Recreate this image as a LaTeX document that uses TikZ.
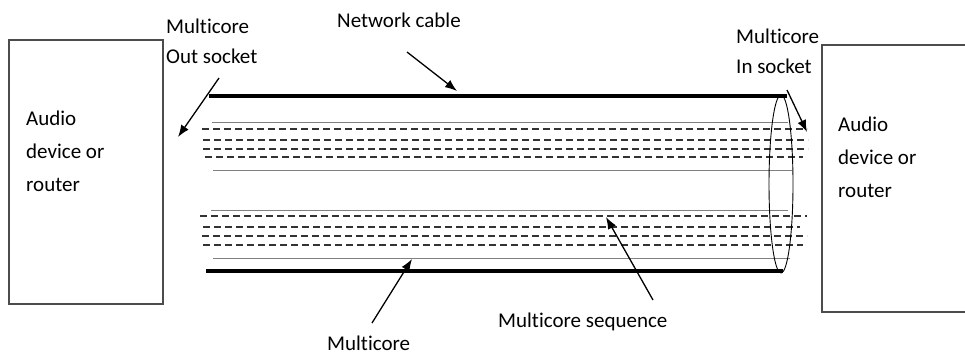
\documentclass[tikz,border=0pt]{standalone}
\usepackage{fontspec}
\setmainfont[Ligatures=NoCommon]{Carlito}
\usetikzlibrary{arrows.meta}

\tikzset{
  lbl/.style={anchor=base west, inner sep=0pt, font=\fontsize{21}{30}\selectfont},
  devbox/.style={draw=black!70, line width=1.3pt},
  sheath/.style={line width=4pt, black},
  core/.style={line width=1pt, black!50},
  pair/.style={line width=1.6pt, black!80, dash pattern=on 7pt off 4pt},
  pointer/.style={line width=1.3pt, -{Latex[length=12pt,width=9pt]}},
  rim/.style={line width=0.9pt, black}
}

\begin{document}
\begin{tikzpicture}[x=1pt,y=-1pt]
  \useasboundingbox (0,0) rectangle (965,354);

  % source device
  \node[devbox, minimum width=154pt, minimum height=264pt, inner sep=0pt] (srcdev) at (86,172) {};
  \node[lbl] (srcA) at (26,125) {Audio};
  \node[lbl] (srcB) at (26,158) {device or};
  \node[lbl] (srcC) at (26,191) {router};

  % destination device (runs off the right edge)
  \draw[devbox] (966,45) -- (822,45) -- (822,312) -- (966,312);
  \coordinate (dstdev) at (822,180);
  \node[lbl] (dstA) at (838,131) {Audio};
  \node[lbl] (dstB) at (838,164) {device or};
  \node[lbl] (dstC) at (838,197) {router};

  % upper bundle
  \draw[core] (212,122) -- (788,122);
  \draw[pair] (202,129) -- (807,129);
  \draw[pair] (203,140) -- (808,140);
  \draw[pair] (203,149) -- (808,149);
  \draw[pair] (205,157) -- (803,157);
  \draw[core] (213,170) -- (792,170);

  % lower bundle
  \draw[core] (211,210) -- (788,210);
  \draw[pair] (200,216) -- (807,216);
  \draw[pair] (203,227) -- (800,227);
  \draw[pair] (202,236) -- (807,236);
  \draw[pair] (203,245) -- (803,245);
  \draw[core] (213,258) -- (790,258);

  % outer sheath
  \draw[sheath] (209,96) coordinate (sheathTL) -- (787,96) coordinate (sheathTR);
  \draw[sheath] (206,271) coordinate (sheathBL) -- (783,271) coordinate (sheathBR);

  % cable end
  \draw[rim] (781,184) ellipse [x radius=12, y radius=89];

  % labels
  \node[lbl] (outA) at (166,33) {Multicore};
  \node[lbl] (outB) at (166,63) {Out socket};
  \node[lbl] (net) at (337,27) {Network cable};
  \node[lbl] (inA) at (736,43) {Multicore};
  \node[lbl] (inB) at (736,73) {In socket};
  \node[lbl] (seq) at (498,327) {Multicore sequence};
  \node[lbl] (mc) at (327,350) {Multicore};

  % pointers
  \coordinate (outS) at (219,78);  \coordinate (outT) at (178,137);
  \coordinate (netS) at (407,52);  \coordinate (netT) at (457,91);
  \coordinate (inS) at (787,90);   \coordinate (inT) at (807,132);
  \coordinate (mcS) at (372,323);  \coordinate (mcT) at (412,259);
  \coordinate (seqS) at (653,300); \coordinate (seqT) at (606,217);
  \draw[pointer] (outS) -- (outT);
  \draw[pointer] (netS) -- (netT);
  \draw[pointer] (inS) -- (inT);
  \draw[pointer] (mcS) -- (mcT);
  \draw[pointer] (seqS) -- (seqT);
\end{tikzpicture}
\end{document}
